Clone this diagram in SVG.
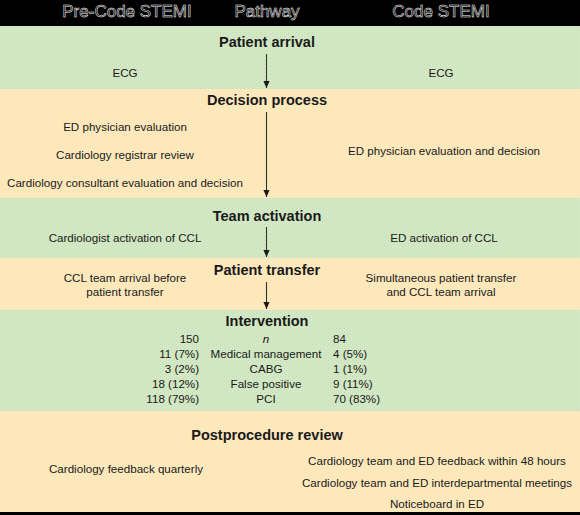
<svg xmlns="http://www.w3.org/2000/svg" width="580" height="515" viewBox="0 0 580 515">
<defs>
<pattern id="dots" width="4" height="4" patternUnits="userSpaceOnUse">
<rect width="4" height="4" fill="#d3e8c4"/>
<rect x="0" y="0" width="1" height="1" fill="#c2dbb0"/>
<rect x="2" y="2" width="1" height="1" fill="#c2dbb0"/>
</pattern>
<marker id="arr" viewBox="0 0 8 8" refX="8" refY="4" markerWidth="7" markerHeight="7" markerUnits="userSpaceOnUse" orient="auto">
<path d="M0,0.5 L8,4 L0,7.5 Z" fill="#1a1a1a"/>
</marker>
<style>
text{font-family:"Liberation Sans",Arial,sans-serif;fill:#1a1a1a}
.hd{font-size:17px;fill:#000;stroke:#fff;stroke-width:0.5;text-anchor:middle}
.t{font-size:14.5px;font-weight:bold;text-anchor:middle}
.b{font-size:11.6px;text-anchor:middle}
.r{font-size:11.6px;text-anchor:end}
.l{font-size:11.6px;text-anchor:start}
.g{fill:url(#dots)}
.o{fill:#fde8bc}
.c{stroke:#333;stroke-width:1.1;fill:none;marker-end:url(#arr)}
</style>
</defs>
<rect x="0" y="0" width="580" height="515" fill="#fde8bc"/>
<g id="header">
<rect x="0" y="0" width="580" height="26" fill="#000"/>
<text class="hd" x="127" y="17">Pre-Code STEMI</text>
<text class="hd" x="267" y="17">Pathway</text>
<text class="hd" x="441" y="17">Code STEMI</text>
</g>
<g id="patient-arrival">
<rect class="g" x="0" y="26" width="580" height="63"/>
<text class="t" x="267" y="47">Patient arrival</text>
<text class="b" x="125" y="77">ECG</text>
<text class="b" x="441" y="77">ECG</text>
</g>
<g id="decision-process">
<rect class="o" x="0" y="89" width="580" height="109"/>
<text class="t" x="267" y="105">Decision process</text>
<text class="b" x="125" y="131">ED physician evaluation</text>
<text class="b" x="125" y="159">Cardiology registrar review</text>
<text class="b" x="125" y="187">Cardiology consultant evaluation and decision</text>
<text class="b" x="444" y="155">ED physician evaluation and decision</text>
</g>
<g id="team-activation">
<rect class="g" x="0" y="198" width="580" height="60"/>
<text class="t" x="267" y="221">Team activation</text>
<text class="b" x="125" y="242">Cardiologist activation of CCL</text>
<text class="b" x="444" y="242">ED activation of CCL</text>
</g>
<g id="patient-transfer">
<rect class="o" x="0" y="258" width="580" height="52"/>
<text class="t" x="267" y="275">Patient transfer</text>
<text class="b" x="125" y="282">CCL team arrival before</text>
<text class="b" x="125" y="296">patient transfer</text>
<text class="b" x="441" y="282">Simultaneous patient transfer</text>
<text class="b" x="441" y="296">and CCL team arrival</text>
</g>
<g id="intervention">
<rect class="g" x="0" y="310" width="580" height="101"/>
<text class="t" x="267" y="326">Intervention</text>
<text class="r" x="199" y="343">150</text>
<text class="b" x="266" y="343" font-style="italic">n</text>
<text class="l" x="333" y="343">84</text>
<text class="r" x="199" y="358">11 (7%)</text>
<text class="b" x="266" y="358">Medical management</text>
<text class="l" x="333" y="358">4 (5%)</text>
<text class="r" x="199" y="373">3 (2%)</text>
<text class="b" x="266" y="373">CABG</text>
<text class="l" x="333" y="373">1 (1%)</text>
<text class="r" x="199" y="388">18 (12%)</text>
<text class="b" x="266" y="388">False positive</text>
<text class="l" x="333" y="388">9 (11%)</text>
<text class="r" x="199" y="403">118 (79%)</text>
<text class="b" x="266" y="403">PCI</text>
<text class="l" x="333" y="403">70 (83%)</text>
</g>
<g id="postprocedure-review">
<rect class="o" x="0" y="411" width="580" height="101"/>
<text class="t" x="267" y="440">Postprocedure review</text>
<text class="b" x="126" y="473">Cardiology feedback quarterly</text>
<text class="b" x="437" y="465">Cardiology team and ED feedback within 48 hours</text>
<text class="b" x="437" y="487">Cardiology team and ED interdepartmental meetings</text>
<text class="b" x="437" y="508">Noticeboard in ED</text>
<rect x="0" y="512" width="580" height="3" fill="#000"/>
</g>
<g id="connectors">
<line class="c" x1="266.5" y1="54" x2="266.5" y2="88"/>
<line class="c" x1="266.5" y1="112" x2="266.5" y2="197"/>
<line class="c" x1="266.5" y1="227" x2="266.5" y2="257"/>
<line class="c" x1="266.5" y1="282" x2="266.5" y2="309"/>
</g>
</svg>
